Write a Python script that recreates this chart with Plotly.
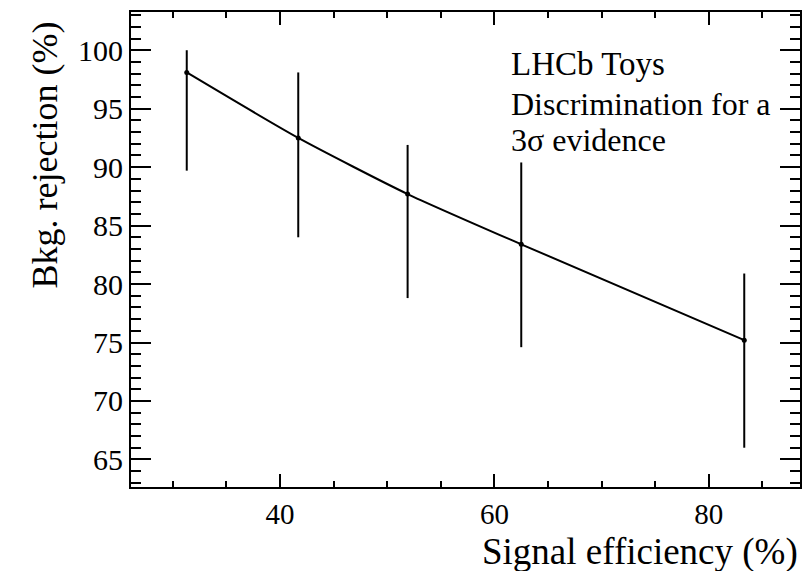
import plotly.graph_objects as go

# Signal efficiency (%) and background rejection (%) with asymmetric errors
sig_eff = [31.3, 41.7, 51.9, 62.5, 83.3]
bkg_rej = [98.1, 92.5, 87.7, 83.4, 75.2]
err_up = [1.9, 5.6, 4.2, 7.0, 5.7]
err_dn = [8.4, 8.5, 8.9, 8.8, 9.2]

x_ticks = [40, 60, 80]
y_ticks = [65, 70, 75, 80, 85, 90, 95, 100]

SERIF = "Liberation Serif"

fig = go.Figure()
fig.add_trace(go.Scatter(
    x=sig_eff, y=bkg_rej,
    mode="lines+markers",
    line=dict(color="black", width=2, shape="spline", smoothing=0.6),
    marker=dict(color="black", size=5),
    error_y=dict(type="data", symmetric=False, array=err_up, arrayminus=err_dn,
                 color="black", thickness=2, width=0),
    showlegend=False,
))

axis_common = dict(
    showgrid=False, zeroline=False, showline=True, linecolor="black", linewidth=2,
    mirror="allticks", ticks="inside", tickcolor="black", tickwidth=2,
)

fig.update_xaxes(
    range=[26.1, 88.5], tickvals=x_ticks, ticklen=13,
    tickfont=dict(family=SERIF, size=29, color="black"),
    minor=dict(dtick=5, tick0=0, ticks="inside", ticklen=6, tickwidth=2, tickcolor="black"),
    **axis_common,
)
fig.update_yaxes(
    range=[62.64, 103.27], tickvals=y_ticks, ticklen=20,
    tickfont=dict(family=SERIF, size=30, color="black"),
    minor=dict(dtick=1, tick0=0, ticks="inside", ticklen=10, tickwidth=2, tickcolor="black"),
    **axis_common,
)


def px_x(px):
    return (px - 131) / 669


def px_y(py):
    return 1 - (py - 10) / 477


def note(text, x, y, size, xanchor="left", yanchor="middle", angle=0):
    return dict(text=text, x=x, y=y, xref="paper", yref="paper",
                xanchor=xanchor, yanchor=yanchor, textangle=angle,
                showarrow=False, font=dict(family=SERIF, size=size, color="black"))


fig.update_layout(
    width=812, height=571,
    margin=dict(l=131, r=12, t=10, b=84),
    plot_bgcolor="white", paper_bgcolor="white",
    font=dict(family=SERIF, color="black"),
    annotations=[
        note("LHCb Toys", px_x(509), px_y(62), 33),
        note("Discrimination for a", px_x(509), px_y(102), 32),
        note("3σ evidence", px_x(509), px_y(139), 32),
        note("Signal efficiency (%)", 1.0, px_y(552), 37, xanchor="right"),
        note("Bkg. rejection (%)", px_x(45), px_y(18), 36,
             xanchor="center", yanchor="top", angle=-90),
    ],
)

fig.write_html("out.html")
